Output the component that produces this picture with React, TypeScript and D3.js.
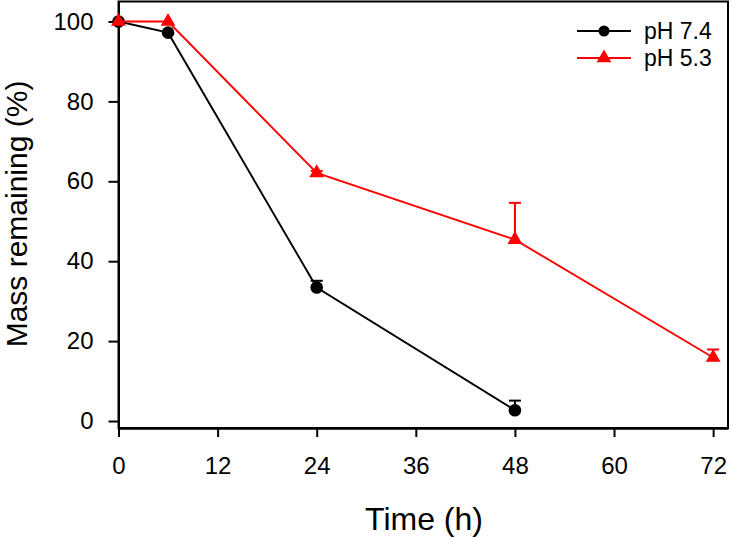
import React, { useEffect, useRef } from 'react';
import * as d3 from 'd3';

const timesNeutral = [0, 6, 24, 48];
const massNeutral = [100, 97.2, 33.4, 2.7];
const errNeutral = [0, 0, 1.7, 2.4];

const timesAcid = [0, 6, 24, 48, 72];
const massAcid = [100, 100, 62.1, 45.4, 15.9];
const errAcid = [0, 0, 0.5, 9.2, 2.0];

const xTicks = [0, 12, 24, 36, 48, 60, 72];
const yTicks = [0, 20, 40, 60, 80, 100];

const W = 731;
const H = 538;
const FONT = '"Liberation Sans", Arial, sans-serif';

export default function App() {
  const svgRef = useRef<SVGSVGElement>(null);

  useEffect(() => {
    if (!svgRef.current) return;
    const svg = d3.select(svgRef.current);
    svg.selectAll('*').remove();

    const left = 118.5;
    const right = 728;
    const top = 1.5;
    const bottom = 428;

    const x = d3.scaleLinear().domain([0, 73.8]).range([left, right]);
    const y = d3.scaleLinear().domain([-1.75, 105]).range([bottom, top]);

    // frame
    svg.append('rect')
      .attr('x', left).attr('y', top)
      .attr('width', right - left).attr('height', bottom - top)
      .attr('fill', 'none').attr('stroke', '#000').attr('stroke-width', 2);

    // x axis
    const xAxis = svg.append('g')
      .attr('transform', `translate(0,${bottom})`)
      .call(d3.axisBottom(x).tickValues(xTicks).tickSize(9).tickSizeOuter(0).tickPadding(20));
    xAxis.attr('font-size', null).attr('font-family', null);
    xAxis.select('.domain').attr('stroke-width', 2.5);
    xAxis.selectAll('.tick line').attr('stroke-width', 2);
    xAxis.selectAll('text').style('font-family', FONT).style('font-size', '24px').attr('fill', '#000');

    // y axis
    const yAxis = svg.append('g')
      .attr('transform', `translate(${left},0)`)
      .call(d3.axisLeft(y).tickValues(yTicks).tickSize(10).tickSizeOuter(0).tickPadding(15));
    yAxis.attr('font-size', null).attr('font-family', null);
    yAxis.select('.domain').attr('stroke-width', 2);
    yAxis.selectAll('.tick line').attr('stroke-width', 2);
    yAxis.selectAll('text').style('font-family', FONT).style('font-size', '24px').attr('fill', '#000');

    // axis titles
    svg.append('text')
      .attr('x', 424).attr('y', 530)
      .attr('text-anchor', 'middle')
      .style('font-family', FONT).style('font-size', '32px')
      .text('Time (h)');
    svg.append('text')
      .attr('transform', `translate(27,214) rotate(-90)`)
      .attr('text-anchor', 'middle')
      .style('font-family', FONT).style('font-size', '30px')
      .text('Mass remaining (%)');

    const line = d3.line<[number, number]>().x(d => x(d[0])).y(d => y(d[1]));
    const tri = d3.symbol().type(d3.symbolTriangle).size(95);

    const drawSeries = (ts: number[], vs: number[], es: number[], color: string, marker: 'circle' | 'tri') => {
      const pts = ts.map((t, i) => [t, vs[i]] as [number, number]);
      // error bars (upper only)
      ts.forEach((t, i) => {
        if (!es[i]) return;
        const cx = x(t);
        svg.append('line')
          .attr('x1', cx).attr('x2', cx)
          .attr('y1', y(vs[i])).attr('y2', y(vs[i] + es[i]))
          .attr('stroke', color).attr('stroke-width', 2);
        svg.append('line')
          .attr('x1', cx - 6).attr('x2', cx + 6)
          .attr('y1', y(vs[i] + es[i])).attr('y2', y(vs[i] + es[i]))
          .attr('stroke', color).attr('stroke-width', 2);
      });
      svg.append('path')
        .datum(pts)
        .attr('fill', 'none').attr('stroke', color).attr('stroke-width', 1.9)
        .attr('d', line);
      pts.forEach(p => {
        if (marker === 'circle') {
          svg.append('circle').attr('cx', x(p[0])).attr('cy', y(p[1])).attr('r', 6.3).attr('fill', color);
        } else {
          svg.append('path').attr('d', tri()!)
            .attr('transform', `translate(${x(p[0])},${y(p[1])})`).attr('fill', color);
        }
      });
    };

    drawSeries(timesNeutral, massNeutral, errNeutral, '#000', 'circle');
    drawSeries(timesAcid, massAcid, errAcid, '#ff0000', 'tri');

    // legend
    const legend = [
      { label: 'pH 7.4', color: '#000', marker: 'circle' },
      { label: 'pH 5.3', color: '#ff0000', marker: 'tri' },
    ];
    legend.forEach((item, i) => {
      const ly = 31 + i * 27;
      svg.append('line').attr('x1', 577).attr('x2', 631).attr('y1', ly).attr('y2', ly)
        .attr('stroke', item.color).attr('stroke-width', 1.9);
      if (item.marker === 'circle') {
        svg.append('circle').attr('cx', 604).attr('cy', ly).attr('r', 5.5).attr('fill', item.color);
      } else {
        svg.append('path').attr('d', tri()!).attr('transform', `translate(604,${ly})`).attr('fill', item.color);
      }
      svg.append('text').attr('x', 644).attr('y', ly + 7.5)
        .style('font-family', FONT).style('font-size', '23px').text(item.label);
    });
  }, []);

  return (
    <svg ref={svgRef} width={W} height={H}
      style={{ position: 'absolute', left: 0, top: 0, background: '#fff' }} />
  );
}
